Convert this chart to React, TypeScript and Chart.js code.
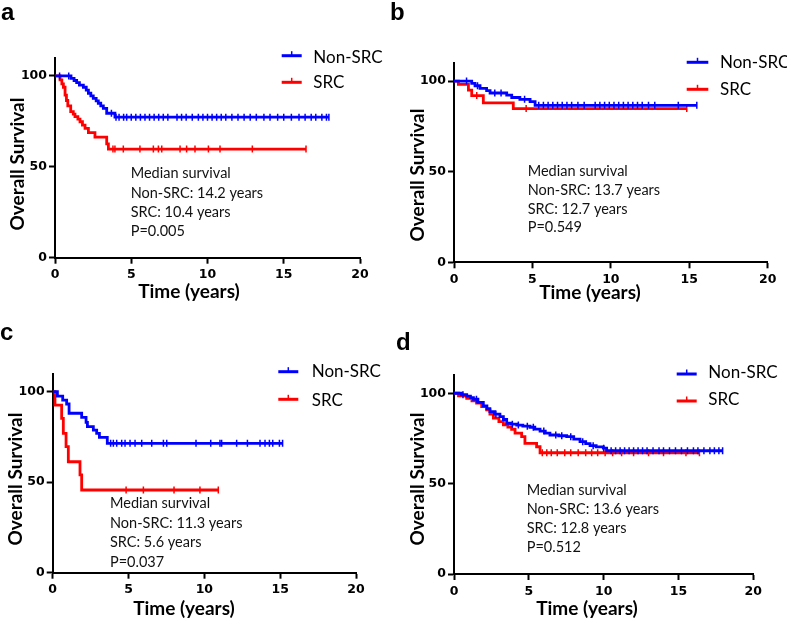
import React, { useEffect, useRef } from "react";
import { Chart, registerables } from "chart.js";

Chart.register(...registerables);

// ---------------- shared labels ----------------
const seriesLabels = ["Non-SRC", "SRC"];
const xAxisTitle = "Time (years)";
const yAxisTitle = "Overall Survival";
const panelLetters = ["a", "b", "c", "d"];

// ---------------- panel a ----------------
const aNonSrcTimes = [0, 1.05, 1.25, 1.42, 1.6, 1.86, 2.05, 2.19, 2.35, 2.51, 2.7, 2.84, 3.0, 3.17, 3.39, 3.93, 17.96];
const aNonSrcSurv = [100, 98.7, 97.5, 96.3, 95.0, 93.8, 92.2, 90.5, 89.1, 87.7, 86.3, 85.0, 83.6, 82.2, 79.5, 77.3, 77.3];
const aNonSrcCensor = [0.3, 0.9, 3.7, 4.0, 4.2, 4.5, 4.7, 5.0, 5.3, 5.6, 5.9, 6.2, 6.5, 6.8, 7.1, 7.4, 8.0, 8.3, 8.6, 9.0, 9.4, 9.7, 10.0, 10.3, 10.6, 10.9, 11.2, 11.6, 12.0, 12.4, 12.8, 13.2, 13.7, 14.1, 14.6, 15.0, 15.5, 16.0, 16.4, 16.8, 17.1, 17.5, 17.8, 17.96];
const aSrcTimes = [0, 0.33, 0.45, 0.55, 0.66, 0.75, 0.84, 1.03, 1.2, 1.31, 1.5, 1.64, 1.8, 1.97, 2.19, 2.62, 3.39, 3.5, 16.46];
const aSrcSurv = [100, 97.8, 95.6, 93.8, 89.5, 86.5, 83.5, 80.4, 79.0, 77.6, 76.2, 74.8, 73.0, 71.2, 68.8, 66.3, 62.6, 59.8, 59.8];
const aSrcCensor = [3.8, 3.93, 4.48, 5.57, 6.45, 6.78, 7.0, 8.2, 8.63, 9.18, 10.06, 10.82, 12.94, 16.46];
const aNotes = ["Median survival", "Non-SRC: 14.2 years", "SRC: 10.4 years", "P=0.005"];

// ---------------- panel b ----------------
const bNonSrcTimes = [0, 1.13, 1.34, 1.66, 2.08, 2.3, 3.36, 3.68, 4.2, 4.85, 5.17, 15.48];
const bNonSrcSurv = [100, 98.7, 97.4, 96.0, 94.7, 93.4, 92.2, 90.9, 89.9, 88.6, 86.6, 86.6];
const bNonSrcCensor = [0.8, 1.5, 2.6, 3.0, 4.5, 5.4, 5.7, 6.0, 6.3, 6.6, 6.9, 7.2, 7.5, 7.9, 8.3, 9.0, 9.3, 9.6, 9.9, 10.2, 10.5, 10.8, 11.1, 11.4, 11.7, 12.0, 12.4, 12.8, 14.3, 15.48];
const bSrcTimes = [0, 0.28, 0.92, 1.13, 1.87, 3.78, 14.84];
const bSrcSurv = [100, 98.2, 95.0, 92.0, 88.0, 84.8, 84.8];
const bSrcCensor = [1.45, 4.6, 14.84];
const bNotes = ["Median survival", "Non-SRC: 13.7 years", "SRC: 12.7 years", "P=0.549"];

// ---------------- panel c ----------------
const cNonSrcTimes = [0, 0.31, 0.66, 0.92, 1.08, 1.91, 2.2, 2.29, 2.68, 2.9, 3.08, 3.6, 15.16];
const cNonSrcSurv = [100, 97.6, 95.4, 93.2, 88.1, 85.8, 83.1, 80.7, 78.8, 77.0, 74.8, 71.5, 71.5];
const cNonSrcCensor = [3.82, 4.0, 4.22, 4.55, 4.77, 5.1, 5.43, 5.87, 6.53, 7.3, 7.52, 9.45, 10.42, 11.03, 11.14, 12.13, 12.84, 13.67, 14.0, 14.29, 14.51, 14.95, 15.16];
const cSrcTimes = [0, 0.15, 0.59, 0.7, 0.88, 1.03, 1.8, 1.91, 10.92];
const cSrcSurv = [100, 92.6, 85.3, 77.0, 69.6, 61.3, 54.0, 45.7, 45.7];
const cSrcCensor = [4.84, 5.98, 8.0, 9.71, 10.92];
const cNotes = ["Median survival", "Non-SRC: 11.3 years", "SRC: 5.6 years", "P=0.037"];

// ---------------- panel d ----------------
const dNonSrcTimes = [0, 0.5, 0.85, 1.1, 1.3, 1.6, 1.96, 2.2, 2.4, 2.7, 3.07, 3.3, 3.52, 3.8, 4.19, 4.6, 5.08, 5.4, 5.75, 6.1, 6.41, 7.0, 7.53, 8.0, 8.42, 8.8, 9.09, 9.5, 9.98, 10.2, 17.95];
const dNonSrcSurv = [100, 99.2, 98.4, 97.6, 96.7, 95.0, 93.0, 91.5, 89.8, 88.5, 87.1, 85.5, 83.4, 82.9, 82.4, 81.8, 81.2, 80.2, 79.1, 78.0, 76.9, 76.5, 76.0, 74.6, 73.2, 72.1, 71.0, 70.3, 69.6, 68.2, 68.2];
const dNonSrcCensor = [0.6, 1.5, 2.8, 3.9, 4.3, 4.9, 5.3, 6.0, 6.8, 7.2, 7.8, 8.6, 9.3, 10.0, 10.5, 10.8, 11.1, 11.4, 11.7, 12.0, 12.3, 12.6, 12.9, 13.3, 13.7, 14.0, 14.4, 14.8, 15.2, 15.6, 16.0, 16.3, 16.7, 17.1, 17.4, 17.7, 17.95];
const dSrcTimes = [0, 0.3, 0.85, 1.2, 1.51, 1.85, 2.18, 2.4, 2.63, 3.0, 3.3, 3.6, 3.85, 4.08, 4.52, 4.74, 5.52, 5.75, 16.4];
const dSrcSurv = [100, 98.6, 97.2, 95.8, 94.5, 92.6, 90.8, 88.5, 86.2, 84.3, 82.5, 81.3, 80.1, 77.9, 76.0, 72.3, 70.4, 67.1, 67.1];
const dSrcCensor = [5.9, 6.2, 6.5, 6.9, 7.4, 7.8, 8.3, 8.8, 9.2, 9.6, 10.1, 10.6, 11.2, 12.0, 13.0, 14.0, 15.5, 16.4];
const dNotes = ["Median survival", "Non-SRC: 13.6 years", "SRC: 12.8 years", "P=0.512"];

// ---------------- styling / helpers ----------------
const BLUE = "#0000ff";
const RED = "#ff0000";
const TEXT_FONT = "Lato";

type Series = { times: number[]; surv: number[]; censor: number[] };

function stepPoints(s: Series) {
  return s.times.map((t, i) => ({ x: t, y: s.surv[i] }));
}
function survAt(s: Series, t: number) {
  let v = s.surv[0];
  for (let i = 0; i < s.times.length; i++) if (s.times[i] <= t) v = s.surv[i];
  return v;
}
function censorPoints(s: Series) {
  return s.censor.map((t) => ({ x: t, y: survAt(s, t) }));
}

interface PanelSpec {
  letter: string;
  box: [number, number, number, number];
  area: [number, number, number, number]; // left, top, right, bottom (page px)
  nonSrc: Series;
  src: Series;
  letterAt: [number, number];
  legendLine: [number, number];
  legendLineY: [number, number];
  legendTextX: number;
  legendBase: [number, number];
  notes: string[];
  noteX: number;
  noteBase: number[];
  xTitle: [number, number];
  yTitle: [number, number];
}

const panels: PanelSpec[] = [
  {
    letter: panelLetters[0],
    box: [0, 0, 390, 312],
    area: [55, 57.8, 360, 257.7],
    nonSrc: { times: aNonSrcTimes, surv: aNonSrcSurv, censor: aNonSrcCensor },
    src: { times: aSrcTimes, surv: aSrcSurv, censor: aSrcCensor },
    letterAt: [1, 20],
    legendLine: [281.7, 301.7],
    legendLineY: [55.7, 82.3],
    legendTextX: 313.3,
    legendBase: [63.3, 88.3],
    notes: aNotes,
    noteX: 130.7,
    noteBase: [178.3, 197.7, 216.7, 235.7],
    xTitle: [189, 298.3],
    yTitle: [23.5, 164],
  },
  {
    letter: panelLetters[1],
    box: [390, 0, 397, 312],
    area: [454, 62.9, 767.7, 262.3],
    nonSrc: { times: bNonSrcTimes, surv: bNonSrcSurv, censor: bNonSrcCensor },
    src: { times: bSrcTimes, surv: bSrcSurv, censor: bSrcCensor },
    letterAt: [390, 20],
    legendLine: [686.7, 708.3],
    legendLineY: [62.3, 89.3],
    legendTextX: 720,
    legendBase: [68.3, 95],
    notes: bNotes,
    noteX: 527.7,
    noteBase: [176, 195, 214, 232.3],
    xTitle: [590, 299],
    yTitle: [424, 175],
  },
  {
    letter: panelLetters[2],
    box: [0, 300, 390, 321],
    area: [52.7, 373.6, 356, 572.7],
    nonSrc: { times: cNonSrcTimes, surv: cNonSrcSurv, censor: cNonSrcCensor },
    src: { times: cSrcTimes, surv: cSrcSurv, censor: cSrcCensor },
    letterAt: [0, 340],
    legendLine: [278.3, 298.3],
    legendLineY: [371.7, 399.3],
    legendTextX: 311.7,
    legendBase: [377.3, 406],
    notes: cNotes,
    noteX: 110,
    noteBase: [508.3, 528.3, 547.3, 566.7],
    xTitle: [184, 615],
    yTitle: [22, 479],
  },
  {
    letter: panelLetters[3],
    box: [390, 300, 397, 321],
    area: [454, 375.2, 753.3, 574],
    nonSrc: { times: dNonSrcTimes, surv: dNonSrcSurv, censor: dNonSrcCensor },
    src: { times: dSrcTimes, surv: dSrcSurv, censor: dSrcCensor },
    letterAt: [396, 350],
    legendLine: [676.7, 696.7],
    legendLineY: [374, 401],
    legendTextX: 708.3,
    legendBase: [378.3, 405],
    notes: dNotes,
    noteX: 526.7,
    noteBase: [495, 514.3, 533.3, 551.7],
    xTitle: [587, 615],
    yTitle: [424, 479],
  },
];

function Panel({ spec }: { spec: PanelSpec }) {
  const ref = useRef<HTMLCanvasElement>(null);
  const [bl, bt, bw, bh] = spec.box;

  useEffect(() => {
    const [al, at, ar, ab] = spec.area;
    const YW = 40;
    const XH = 25;

    const overlay = {
      id: "overlay" + spec.letter,
      afterDraw(chart: any) {
        const ctx: CanvasRenderingContext2D = chart.ctx;
        ctx.save();
        ctx.fillStyle = "#000";
        ctx.textBaseline = "alphabetic";
        // panel letter
        ctx.font = 'bold 24px "Liberation Sans"';
        ctx.textAlign = "left";
        ctx.fillText(spec.letter, spec.letterAt[0] - bl, spec.letterAt[1] - bt);
        // x title
        ctx.font = `bold 19px ${TEXT_FONT}`;
        ctx.textAlign = "center";
        ctx.fillText(xAxisTitle, spec.xTitle[0] - bl, spec.xTitle[1] - bt);
        // y title
        ctx.save();
        ctx.translate(spec.yTitle[0] - bl, spec.yTitle[1] - bt);
        ctx.rotate(-Math.PI / 2);
        ctx.fillText(yAxisTitle, 0, 0);
        ctx.restore();
        // legend
        const colors = [BLUE, RED];
        seriesLabels.forEach((lab, i) => {
          const y = spec.legendLineY[i] - bt;
          const x0 = spec.legendLine[0] - bl;
          const x1 = spec.legendLine[1] - bl;
          ctx.strokeStyle = colors[i];
          ctx.lineWidth = 3;
          ctx.beginPath();
          ctx.moveTo(x0, y);
          ctx.lineTo(x1, y);
          ctx.stroke();
          ctx.lineWidth = 1.5;
          ctx.beginPath();
          ctx.moveTo((x0 + x1) / 2, y);
          ctx.lineTo((x0 + x1) / 2, y - 4.5);
          ctx.stroke();
          ctx.fillStyle = "#000";
          ctx.font = `17px ${TEXT_FONT}`;
          ctx.textAlign = "left";
          ctx.fillText(lab, spec.legendTextX - bl, spec.legendBase[i] - bt);
        });
        // notes
        ctx.fillStyle = "#111";
        ctx.font = `14.5px ${TEXT_FONT}`;
        ctx.textAlign = "left";
        spec.notes.forEach((n, i) => {
          ctx.fillText(n, spec.noteX - bl, spec.noteBase[i] - bt);
        });
        ctx.restore();
      },
    };

    const tickFont = { family: '"DejaVu Sans"', weight: "bold" as const, size: 12.5 };
    const chart = new Chart(ref.current as HTMLCanvasElement, {
      type: "line",
      data: {
        datasets: [
          {
            label: seriesLabels[0],
            data: stepPoints(spec.nonSrc),
            borderColor: BLUE,
            borderWidth: 2.8,
            stepped: "before",
            pointRadius: 0,
            fill: false,
          },
          {
            label: seriesLabels[0] + " censored",
            data: censorPoints(spec.nonSrc),
            showLine: false,
            pointStyle: "line",
            rotation: 90,
            pointRadius: 3.5,
            pointBorderWidth: 1.5,
            borderColor: BLUE,
            pointBorderColor: BLUE,
            pointBackgroundColor: BLUE,
          },
          {
            label: seriesLabels[1],
            data: stepPoints(spec.src),
            borderColor: RED,
            borderWidth: 2.8,
            stepped: "before",
            pointRadius: 0,
            fill: false,
          },
          {
            label: seriesLabels[1] + " censored",
            data: censorPoints(spec.src),
            showLine: false,
            pointStyle: "line",
            rotation: 90,
            pointRadius: 3.5,
            pointBorderWidth: 1.5,
            borderColor: RED,
            pointBorderColor: RED,
            pointBackgroundColor: RED,
          },
        ] as any,
      },
      options: {
        responsive: false,
        animation: false,
        devicePixelRatio: 1,
        events: [],
        layout: {
          padding: {
            left: al - bl - YW,
            top: at - bt,
            right: bl + bw - ar,
            bottom: bt + bh - ab - XH,
          },
        },
        plugins: { legend: { display: false }, tooltip: { enabled: false } },
        scales: {
          x: {
            type: "linear",
            min: 0,
            max: 20,
            afterFit: (s: any) => {
              s.height = XH;
            },
            ticks: { stepSize: 5, color: "#000", font: tickFont, padding: 4, maxRotation: 0 },
            grid: { display: true, drawOnChartArea: false, drawTicks: true, tickLength: 6, tickColor: "#000", tickWidth: 2 },
            border: { display: true, color: "#000", width: 2 },
          },
          y: {
            type: "linear",
            min: 0,
            max: 110,
            afterFit: (s: any) => {
              s.width = YW;
            },
            ticks: { stepSize: 50, includeBounds: false, color: "#000", font: tickFont, padding: 2 },
            grid: { display: true, drawOnChartArea: false, drawTicks: true, tickLength: 6, tickColor: "#000", tickWidth: 2 },
            border: { display: true, color: "#000", width: 2 },
          },
        },
      } as any,
      plugins: [overlay],
    });
    return () => chart.destroy();
  }, [spec]);

  return (
    <canvas
      ref={ref}
      width={bw}
      height={bh}
      style={{ position: "absolute", left: bl, top: bt, width: bw, height: bh }}
    />
  );
}

export default function App() {
  return (
    <div style={{ position: "absolute", left: 0, top: 0, width: 787, height: 621, background: "#fff" }}>
      {panels.map((p) => (
        <Panel key={p.letter} spec={p} />
      ))}
    </div>
  );
}
